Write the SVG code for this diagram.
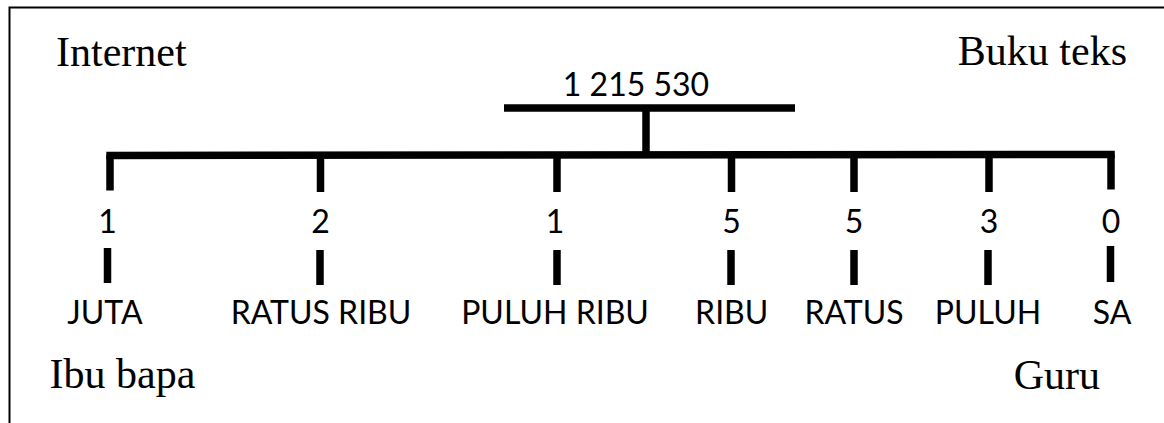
<svg xmlns="http://www.w3.org/2000/svg" width="1164" height="423" viewBox="0 0 1164 423">
  <style>
    .frame { stroke: #000; stroke-width: 2; fill: none; }
    .bar { stroke: #000; stroke-width: 7.5; fill: none; stroke-linecap: butt; }
    .sans { font-family: Lato, "Open Sans", sans-serif; font-size: 32px; fill: #000; text-anchor: middle; }
    .serif { font-family: "Liberation Serif", "Times New Roman", serif; font-size: 42px; fill: #000; }
  </style>
  <rect width="1164" height="423" fill="#fff"/>
  <g id="frame">
    <polyline class="frame" points="9.5,423 9.5,7.5 1164,7.5"/>
  </g>
  <g id="sources">
    <text id="src-internet" class="serif" x="56" y="65.5">Internet</text>
    <text id="src-buku" class="serif" x="1127" y="65" text-anchor="end">Buku teks</text>
    <text id="src-ibubapa" class="serif" x="49.5" y="388">Ibu bapa</text>
    <text id="src-guru" class="serif" x="1100" y="388.5" text-anchor="end">Guru</text>
  </g>
  <g id="number">
    <text class="sans" x="636" y="96">1 215 530</text>
  </g>
  <g id="connectors">
    <line class="bar" x1="504" y1="108" x2="795" y2="108"/>
    <line class="bar" x1="646" y1="108" x2="646" y2="152"/>
    <line class="bar" x1="106.3" y1="155.5" x2="1114.8" y2="154.5"/>
    <line class="bar" x1="110" y1="155" x2="110" y2="190.5"/>
    <line class="bar" x1="320.5" y1="155" x2="320.5" y2="192"/>
    <line class="bar" x1="557" y1="155" x2="557" y2="192"/>
    <line class="bar" x1="731.5" y1="155" x2="731.5" y2="192"/>
    <line class="bar" x1="854" y1="155" x2="854" y2="192"/>
    <line class="bar" x1="989" y1="155" x2="989" y2="192"/>
    <line class="bar" x1="1111" y1="155" x2="1111" y2="189.5"/>
    <line class="bar" x1="107.5" y1="248" x2="107.5" y2="283"/>
    <line class="bar" x1="320" y1="250" x2="320" y2="285"/>
    <line class="bar" x1="557" y1="250" x2="557" y2="285"/>
    <line class="bar" x1="731" y1="250" x2="731" y2="285"/>
    <line class="bar" x1="854" y1="250" x2="854" y2="285"/>
    <line class="bar" x1="988" y1="250" x2="988" y2="285"/>
    <line class="bar" x1="1110.5" y1="246" x2="1110.5" y2="282"/>
  </g>
  <g id="digit-juta"><text class="sans" x="107.5" y="233">1</text><text class="sans" x="105" y="324">JUTA</text></g>
  <g id="digit-ratusribu"><text class="sans" x="320.5" y="233">2</text><text class="sans" x="321" y="324">RATUS RIBU</text></g>
  <g id="digit-puluhribu"><text class="sans" x="555" y="233">1</text><text class="sans" x="555" y="324">PULUH RIBU</text></g>
  <g id="digit-ribu"><text class="sans" x="731.5" y="233">5</text><text class="sans" x="731.7" y="324">RIBU</text></g>
  <g id="digit-ratus"><text class="sans" x="854" y="233">5</text><text class="sans" x="854" y="324">RATUS</text></g>
  <g id="digit-puluh"><text class="sans" x="989" y="233">3</text><text class="sans" x="988" y="324">PULUH</text></g>
  <g id="digit-sa"><text class="sans" x="1111" y="233">0</text><text class="sans" x="1112" y="324">SA</text></g>
</svg>
